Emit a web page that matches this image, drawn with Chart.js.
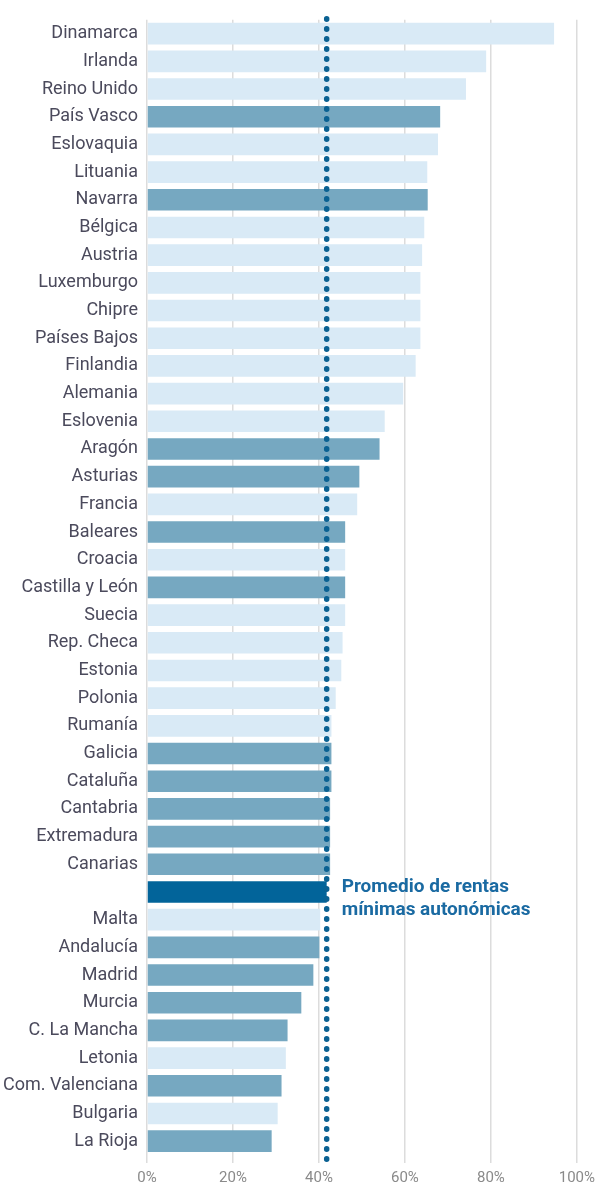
<!DOCTYPE html>
<html lang="es">
<head>
<meta charset="utf-8">
<title>Rentas mínimas</title>
<script src="https://cdn.jsdelivr.net/npm/chart.js@4.4.1/dist/chart.umd.min.js"></script>
<style>
  body { margin: 0; background: #fff; }
  #wrap { width: 601px; height: 1189px; position: relative; }
</style>
</head>
<body>
<div id="wrap"><canvas id="chart"></canvas></div>
<script>
// Categories (empty label = average row of the regional minimum incomes)
const categories = [
    'Dinamarca', 'Irlanda', 'Reino Unido', 'País Vasco', 'Eslovaquia', 'Lituania',
    'Navarra', 'Bélgica', 'Austria', 'Luxemburgo', 'Chipre', 'Países Bajos',
    'Finlandia', 'Alemania', 'Eslovenia', 'Aragón', 'Asturias', 'Francia',
    'Baleares', 'Croacia', 'Castilla y León', 'Suecia', 'Rep. Checa', 'Estonia',
    'Polonia', 'Rumanía', 'Galicia', 'Cataluña', 'Cantabria', 'Extremadura',
    'Canarias', '', 'Malta', 'Andalucía', 'Madrid', 'Murcia', 'C. La Mancha',
    'Letonia', 'Com. Valenciana', 'Bulgaria', 'La Rioja'
];

// Values in %
const values = [
    94.7, 78.9, 74.2, 68.2, 67.7, 65.2,
    65.3, 64.5, 64.0, 63.6, 63.6, 63.6,
    62.5, 59.6, 55.3, 54.1, 49.4, 48.9,
    46.1, 46.1, 46.1, 46.1, 45.5, 45.2,
    43.9, 42.9, 42.9, 42.9, 42.6, 42.6,
    42.6, 41.8, 40.3, 40.1, 38.7, 35.9, 32.7,
    32.3, 31.3, 30.4, 29.0
];

// Kind of each row: 'pais' = EU country, 'ccaa' = Spanish region, 'media' = average
const kinds = [
    'pais', 'pais', 'pais', 'ccaa', 'pais', 'pais',
    'ccaa', 'pais', 'pais', 'pais', 'pais', 'pais',
    'pais', 'pais', 'pais', 'ccaa', 'ccaa', 'pais',
    'ccaa', 'pais', 'ccaa', 'pais', 'pais', 'pais',
    'pais', 'pais', 'ccaa', 'ccaa', 'ccaa', 'ccaa',
    'ccaa', 'media', 'pais', 'ccaa', 'ccaa', 'ccaa', 'ccaa',
    'pais', 'ccaa', 'pais', 'ccaa'
];

const xTicks = [0, 20, 40, 60, 80, 100];
const promedio = 41.8;
const promedioLabel = ['Promedio de rentas', 'mínimas autonómicas'];

const colors = { pais: '#d9eaf6', ccaa: '#76a8c1', media: '#02649a' };

// Dotted average line plus its label
const promedioLine = {
    id: 'promedioLine',
    afterDatasetsDraw(chart) {
        const { ctx, chartArea, scales: { x, y } } = chart;
        const px = x.getPixelForValue(promedio);
        ctx.save();
        ctx.strokeStyle = '#0a6192';
        ctx.lineWidth = 5.5;
        ctx.lineCap = 'round';
        ctx.setLineDash([0.5, 9.5]);
        ctx.beginPath();
        ctx.moveTo(px, chartArea.top - 1);
        ctx.lineTo(px, chartArea.bottom + 8);
        ctx.stroke();

        const py = y.getPixelForValue(categories.indexOf(''));
        ctx.setLineDash([]);
        ctx.font = 'bold 19px Roboto';
        ctx.fillStyle = '#1a6aa2';
        ctx.textBaseline = 'middle';
        ctx.fillText(promedioLabel[0], px + 15, py - 5);
        ctx.fillText(promedioLabel[1], px + 15, py + 18);
        ctx.restore();
    }
};

new Chart(document.getElementById('chart'), {
    type: 'bar',
    data: {
        labels: categories,
        datasets: [{
            data: values,
            backgroundColor: kinds.map(k => colors[k]),
            borderWidth: 0,
            barPercentage: 0.78,
            categoryPercentage: 1
        }]
    },
    options: {
        indexAxis: 'y',
        responsive: true,
        maintainAspectRatio: false,
        animation: false,
        layout: { padding: { top: 18, right: 23, left: 0, bottom: 0 } },
        plugins: {
            legend: { display: false },
            tooltip: { enabled: false }
        },
        scales: {
            x: {
                min: 0,
                max: 100,
                afterBuildTicks: scale => { scale.ticks = xTicks.map(v => ({ value: v })); },
                afterFit: scale => { scale.height = 34; },
                grid: { color: '#dcdcdc', lineWidth: 1.5, tickLength: 8 },
                border: { display: false },
                ticks: {
                    padding: 6,
                    color: '#8a8a8a',
                    font: { family: 'Roboto', size: 15 },
                    callback: v => v + '%'
                }
            },
            y: {
                afterFit: scale => { scale.width = 147; },
                grid: { display: false, drawTicks: false },
                border: { display: false },
                ticks: {
                    padding: 9,
                    color: '#4b4a5c',
                    font: { family: 'Roboto', size: 18 },
                    autoSkip: false
                }
            }
        }
    },
    plugins: [promedioLine]
});
</script>
</body>
</html>
